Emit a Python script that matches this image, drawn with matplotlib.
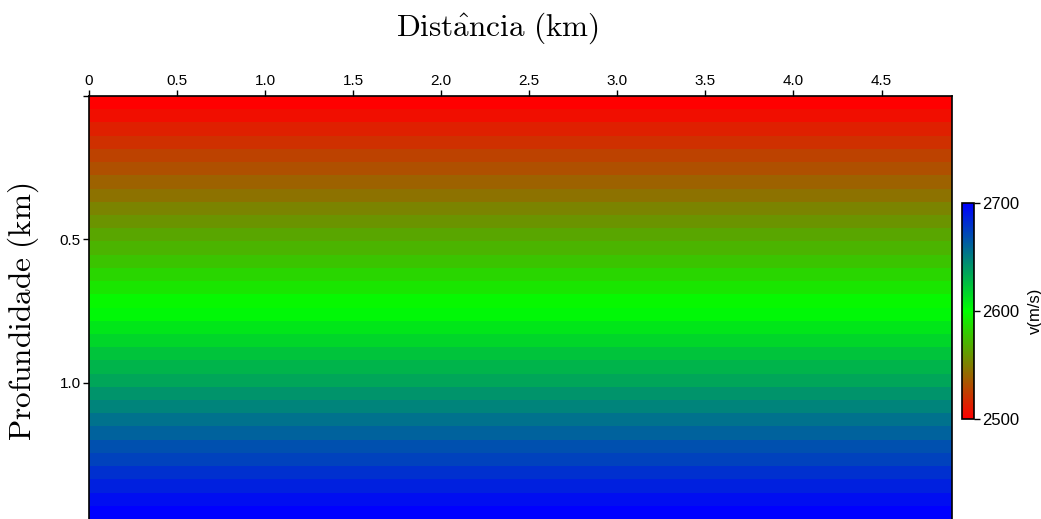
import matplotlib
matplotlib.use("Agg")
import matplotlib.pyplot as plt
import numpy as np
from matplotlib.colors import LinearSegmentedColormap

# velocity model: horizontal layers (depth in km, velocity in m/s)
x_edges = [0.0, 4.9]
layer_top = [0.000, 0.046, 0.092, 0.138, 0.184, 0.230, 0.277, 0.323,
             0.369, 0.415, 0.461, 0.507, 0.553, 0.599, 0.645, 0.691,
             0.738, 0.784, 0.830, 0.876, 0.922, 0.968, 1.014, 1.060,
             1.106, 1.152, 1.198, 1.245, 1.291, 1.337, 1.383, 1.429]
layer_bottom_last = 1.475
velocity = [2500, 2506, 2513, 2519, 2526, 2532, 2539, 2545,
            2552, 2558, 2565, 2571, 2577, 2584, 2590, 2597,
            2603, 2610, 2616, 2623, 2629, 2635, 2642, 2648,
            2655, 2661, 2668, 2674, 2681, 2687, 2694, 2700]
vmin, vmax = 2500, 2700

xticks = [0, 0.5, 1.0, 1.5, 2.0, 2.5, 3.0, 3.5, 4.0, 4.5]
xticklabels = ['0', '0.5', '1.0', '1.5', '2.0', '2.5', '3.0', '3.5', '4.0', '4.5']
yticks = [0, 0.5, 1.0]
yticklabels = ['', '0.5', '1.0']
cbticks = [2500, 2600, 2700]

plt.rcParams['font.family'] = ['Liberation Sans', 'DejaVu Sans']
plt.rcParams['mathtext.fontset'] = 'cm'

cmap = LinearSegmentedColormap.from_list('rgb', [(1, 0, 0), (0, 1, 0), (0, 0, 1)], N=256)

fig = plt.figure(figsize=(10.41, 5.19), dpi=100)
ax = fig.add_axes([0.0855, 0.0, 0.829, 0.815])

y_edges = np.array(layer_top + [layer_bottom_last])
vel = np.array(velocity).reshape(-1, 1)
mesh = ax.pcolormesh(x_edges, y_edges, vel, cmap=cmap, vmin=vmin, vmax=vmax)
ax.set_xlim(0, 4.9)
ax.set_ylim(layer_bottom_last, 0)

ax.xaxis.tick_top()
ax.set_xticks(xticks)
ax.set_xticklabels(xticklabels)
ax.set_yticks(yticks)
ax.set_yticklabels(yticklabels)
ax.tick_params(labelsize=11, length=4, width=1, direction='out', pad=2)
ax.spines['bottom'].set_visible(False)
for s in ['top', 'left', 'right']:
    ax.spines[s].set_linewidth(1.2)

fig.text(0.478, 0.945, r'$\mathrm{Dist\hat{a}ncia\ (km)}$', fontsize=22.5,
         ha='center', va='center')
fig.text(0.022, 0.40, r'$\mathrm{Profundidade\ (km)}$', fontsize=22.5,
         ha='center', va='center', rotation=90)

# colorbar drawn with the same layer steps
cax = fig.add_axes([0.924, 0.193, 0.0115, 0.416])
cb = fig.colorbar(mesh, cax=cax, ticks=cbticks)
cb.ax.tick_params(labelsize=12, length=4, width=1, pad=2)
cb.outline.set_linewidth(1.2)
cb.set_label('v(m/s)', fontsize=12, labelpad=6)

fig.savefig('out.png', dpi=100)
